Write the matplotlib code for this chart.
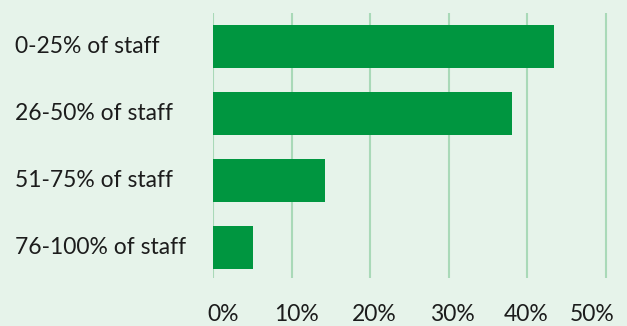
import matplotlib
matplotlib.use("Agg")
import matplotlib.pyplot as plt
import matplotlib.transforms as mtransforms

categories = ["0-25% of staff", "26-50% of staff", "51-75% of staff", "76-100% of staff"]
shares = [43.4, 38.1, 14.3, 5.1]
tick_values = [0, 10, 20, 30, 40, 50]
tick_labels = ["0%", "10%", "20%", "30%", "40%", "50%"]

BG = "#e6f3ea"
BAR = "#009640"
GRID = "#a9d9b8"
TEXT = "#1c1c1c"

plt.rcParams["font.family"] = ["Lato", "DejaVu Sans"]

W, H = 627, 326
fig = plt.figure(figsize=(W / 100, H / 100), dpi=100, facecolor=BG)

xmax = 51.0
left_px, grid50_px = 213, 605.7
ax_w = (grid50_px - left_px) * xmax / 50
ax = fig.add_axes([left_px / W, 48 / H, ax_w / W, (313 - 48) / H])
ax.set_facecolor(BG)

ypos = list(range(len(categories)))
ax.barh(ypos, shares, height=0.64, color=BAR, zorder=3)

ax.set_xlim(0, xmax)
ax.set_ylim(3.46, -0.5)

for v in tick_values:
    ax.axvline(v, color=GRID, lw=1.5, zorder=1)

for s in ax.spines.values():
    s.set_visible(False)

ax.set_yticks([])
ax.set_xticks(tick_values)
ax.set_xticklabels(tick_labels, fontsize=16.5, color=TEXT)
ax.tick_params(axis="x", length=0, pad=19)

# nudge the axis labels slightly so they sit evenly along the bottom
offsets_px = [10, 5, 4, 4, -1, -14]
for lbl, dx in zip(ax.get_xticklabels(), offsets_px):
    lbl.set_transform(lbl.get_transform() + mtransforms.ScaledTranslation(dx / 100, 0, fig.dpi_scale_trans))

# category names, left-aligned at the figure edge
trans = mtransforms.blended_transform_factory(fig.transFigure, ax.transData)
for y, name in zip(ypos, categories):
    ax.text(15 / W, y, name, transform=trans, ha="left", va="center",
            fontsize=16.5, color=TEXT)

fig.savefig("out.png", dpi=100, facecolor=BG)
